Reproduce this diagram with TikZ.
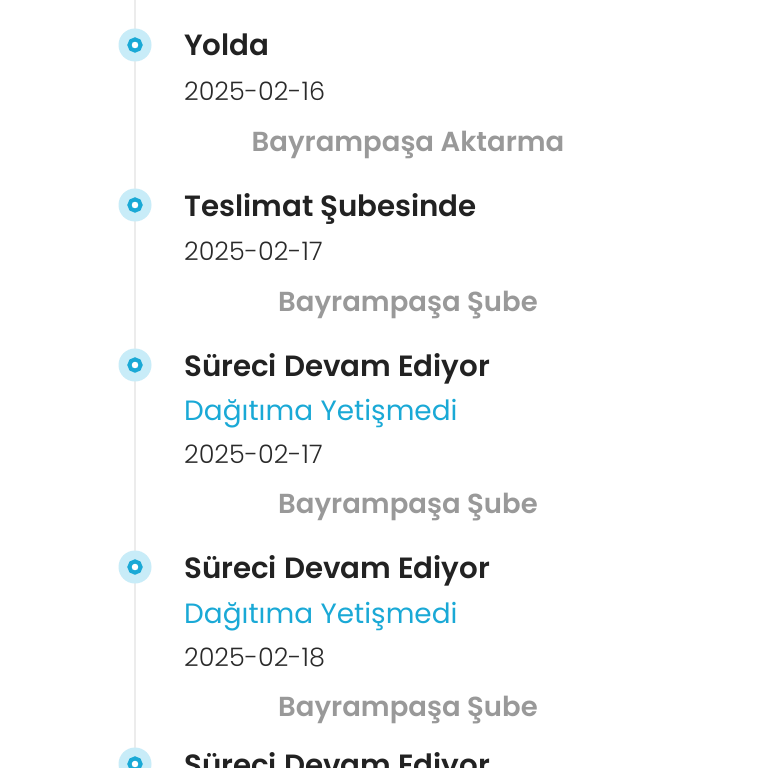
\documentclass[tikz,border=0pt]{standalone}
\usepackage{fontspec}
\setmainfont{Poppins}
\newfontfamily\lightfont{Poppins Light}
\newfontfamily\semifont{Poppins SemiBold}
\definecolor{titlec}{HTML}{222222}
\definecolor{datec}{HTML}{2A2A2A}
\definecolor{locc}{HTML}{999999}
\definecolor{accent}{HTML}{1AA9D6}
\definecolor{halo}{HTML}{C8ECF8}
\definecolor{linec}{HTML}{ECECEC}
\tikzset{
  title/.style={anchor=base west, inner sep=0pt, text=titlec, font=\fontsize{29.3}{32}\selectfont\semifont},
  datetxt/.style={anchor=base west, inner sep=0pt, text=datec, font=\fontsize{25.5}{30}\selectfont\lightfont},
  subtxt/.style={anchor=base west, inner sep=0pt, text=accent, font=\fontsize{27.9}{30}\selectfont},
  loc/.style={anchor=base, inner sep=0pt, text=locc, font=\fontsize{27.5}{30}\selectfont\semifont},
  halodot/.style={circle, fill=halo, minimum size=33pt, inner sep=0pt},
}
\newcommand{\tdot}[2]{%
  \node[halodot] (#1) at (135,#2) {};
  \draw[accent, line width=4pt, fill=white] (#1.center) circle (5.6pt);
}
\begin{document}
\begin{tikzpicture}[x=1pt,y=-1pt]
\useasboundingbox (0,0) rectangle (768,768);
\clip (0,0) rectangle (768,768);
\fill[white] (0,0) rectangle (768,768);
\coordinate (ltop) at (135,0);
\coordinate (lbot) at (135,762);
\draw[linec, line width=2pt] (ltop) -- (lbot);
% item 1
\tdot{d1}{45}
\node[title] (t1) at (184,56) {Yolda};
\node[datetxt] (a1) at (184,100) {2025-02-16};
\node[loc] (l1) at (408,151) {Bayrampaşa Aktarma};
% item 2
\tdot{d2}{205}
\node[title] (t2) at (184,216) {Teslimat Şubesinde};
\node[datetxt] (a2) at (184,260) {2025-02-17};
\node[loc] (l2) at (408,311) {Bayrampaşa Şube};
% item 3
\tdot{d3}{365}
\node[title] (t3) at (184,376) {Süreci Devam Ediyor};
\node[subtxt] (s3) at (184,420) {Dağıtıma Yetişmedi};
\node[datetxt] (a3) at (184,463) {2025-02-17};
\node[loc] (l3) at (408,513) {Bayrampaşa Şube};
% item 4
\tdot{d4}{567}
\node[title] (t4) at (184,578) {Süreci Devam Ediyor};
\node[subtxt] (s4) at (184,623) {Dağıtıma Yetişmedi};
\node[datetxt] (a4) at (184,666) {2025-02-18};
\node[loc] (l4) at (408,716) {Bayrampaşa Şube};
% item 5 (cut)
\tdot{d5}{764}
\node[title] (t5) at (184,775) {Süreci Devam Ediyor};
\end{tikzpicture}
\end{document}
